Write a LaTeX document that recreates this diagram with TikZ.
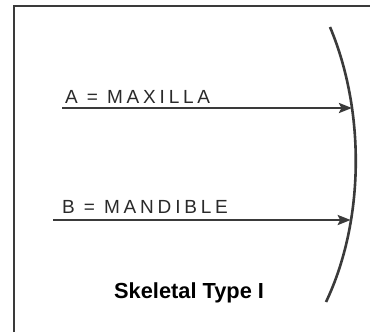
\documentclass[tikz,border=0pt]{standalone}
\usepackage{fontspec}
\setmainfont{Liberation Sans}
\newfontfamily\labelfont[LetterSpace=20]{Liberation Sans}
\usetikzlibrary{arrows.meta}
\definecolor{ink}{HTML}{3A3A3A}
\definecolor{txt}{HTML}{2A2A2A}
\tikzset{
  frameline/.style={draw=ink, line width=1.6pt},
  arcline/.style={draw=ink, line width=2.6pt},
  ray/.style={draw=ink, line width=2.4pt, -{Stealth[length=13pt,width=10pt,inset=2.5pt]}},
  lbl/.style={anchor=base west, inner sep=0pt, text=txt, font=\labelfont\fontsize{19}{21}\selectfont},
  ttl/.style={anchor=base west, inner sep=0pt, text=black, font=\bfseries\fontsize{21.8}{24}\selectfont}
}
\begin{document}
\begin{tikzpicture}[x=1pt,y=-1pt]
\useasboundingbox[fill=white] (0,0) rectangle (379,332);
% frame
\coordinate (fl) at (14,332);
\coordinate (ftl) at (14,6);
\coordinate (ftr) at (370,6);
\draw[frameline] (fl) -- (ftl) -- (ftr);
% arc
\coordinate (atop) at (330,27);
\coordinate (abot) at (326,302);
\draw[arcline] (atop) .. controls (365,110) and (365,220) .. (abot)
  coordinate[pos=0.3] (ta) coordinate[pos=0.7] (tb);
% rays
\coordinate (sa) at (62,108);
\coordinate (sb) at (53,220);
\draw[ray] (sa) -- (sa -| ta);
\draw[ray] (sb) -- (sb -| tb);
% labels
\node[lbl] (la) at (65,103) {A = MAXILLA};
\node[lbl] (lb) at (62,213) {B = MANDIBLE};
\node[ttl] (title) at (114,298) {Skeletal Type I};
\end{tikzpicture}
\end{document}
